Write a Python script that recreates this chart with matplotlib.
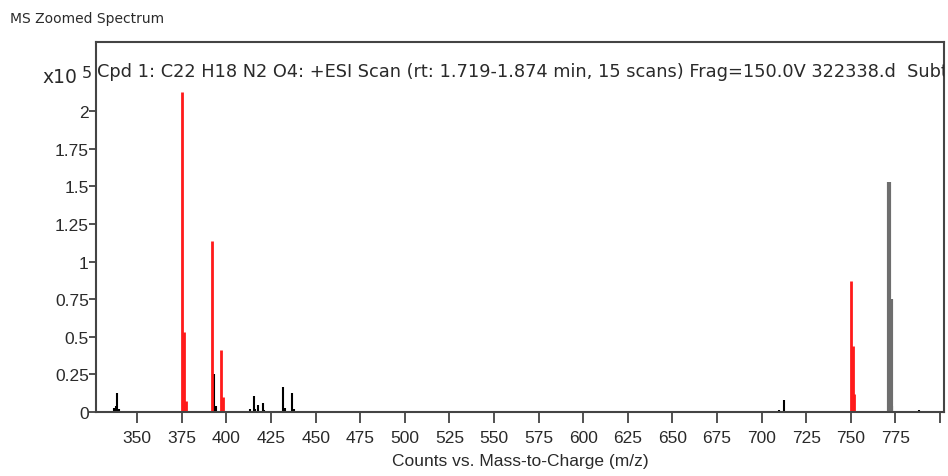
import matplotlib.pyplot as plt

plt.rcParams['font.family'] = ['Liberation Sans', 'DejaVu Sans']

# peaks matched to the compound (red)
match_mz = [375.1, 376.1, 377.1, 392.1, 397.1, 398.1, 750.0, 751.0, 752.0]
match_int = [2.13, 0.53, 0.075, 1.14, 0.41, 0.10, 0.87, 0.44, 0.12]

# other ions (black)
other_mz = [337.0, 338.0, 338.6, 339.5, 393.2, 394.2, 413.2, 415.2, 416.2, 417.5,
            420.3, 421.2, 431.9, 432.9, 433.9, 437.0, 438.0, 453.1, 460.3, 470.0,
            474.6, 515.3, 690.8, 709.8, 712.6, 766.6, 773.4, 774.4, 788.4, 793.6]
other_int = [0.03, 0.04, 0.125, 0.02, 0.25, 0.04, 0.02, 0.105, 0.02, 0.045,
             0.06, 0.015, 0.17, 0.03, 0.01, 0.125, 0.02, 0.01, 0.008, 0.008,
             0.008, 0.006, 0.01, 0.015, 0.08, 0.01, 0.04, 0.01, 0.012, 0.01]

# 2M+Na cluster (grey)
dimer_mz = [771.6, 772.6]
dimer_int = [1.53, 0.75]

xticks = [350, 375, 400, 425, 450, 475, 500, 525, 550, 575, 600, 625, 650,
          675, 700, 725, 750, 775, 800]
yticks = [0, 0.25, 0.5, 0.75, 1, 1.25, 1.5, 1.75, 2]
ytick_labels = ['0', '0.25', '0.5', '0.75', '1', '1.25', '1.5', '1.75', '2']

fig = plt.figure(figsize=(9.48, 4.77), dpi=100)
ax = fig.add_axes([0.101, 0.134, 0.895, 0.776])

ax.vlines(other_mz, 0, other_int, color='black', lw=1.5)
ax.vlines(dimer_mz, 0, dimer_int, color='#6e6e6e', lw=3)
ax.vlines(match_mz, 0, match_int, color='#ff1a1a', lw=2)

ax.set_xlim(326.7, 802.4)
ax.set_ylim(0, 2.46)
ax.set_xticks(xticks)
ax.set_xticklabels([str(t) if t < 800 else '' for t in xticks])
ax.set_yticks(yticks)
ax.set_yticklabels(ytick_labels)
ax.tick_params(axis='both', labelsize=12.5, width=1.2,
               colors='#333333', labelcolor='#2a2a2a')
ax.tick_params(axis='x', length=8, pad=5)
ax.tick_params(axis='y', length=5, pad=0)
ax.axhline(0, color='#222222', lw=2)

for s in ax.spines.values():
    s.set_color('#444444')
    s.set_linewidth(1.5)

ax.set_xlabel('Counts vs. Mass-to-Charge (m/z)', fontsize=12.5, color='#2a2a2a',
              labelpad=6)

# scan header, clipped at the right frame like the instrument software does
ax.text(0.002, 0.945,
        'Cpd 1: C22 H18 N2 O4: +ESI Scan (rt: 1.719-1.874 min, 15 scans) '
        'Frag=150.0V 322338.d  Subtract',
        transform=ax.transAxes, fontsize=12.75, color='#2a2a2a',
        family='DejaVu Sans', va='top', ha='left', clip_on=True)

fig.text(0.045, 0.826, 'x10', fontsize=13.5, color='#2a2a2a', va='baseline',
         family='DejaVu Sans')
fig.text(0.0865, 0.8365, '5', fontsize=11.5, color='#2a2a2a', va='baseline',
         family='DejaVu Sans')
fig.text(0.011, 0.952, 'MS Zoomed Spectrum', fontsize=10, color='#2b2b2b',
         family='DejaVu Sans')

fig.savefig('out.png', dpi=100)
